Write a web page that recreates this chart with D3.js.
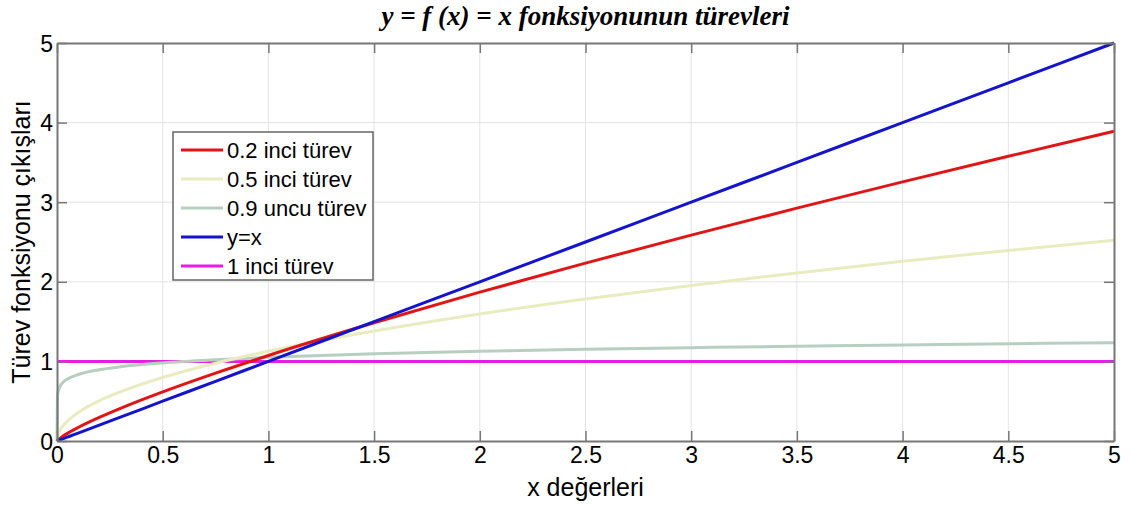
<!DOCTYPE html>
<html>
<head>
<meta charset="utf-8">
<script src="https://cdn.jsdelivr.net/npm/d3@7"></script>
<style>
  body { margin: 0; background: #fff; }
  svg { display: block; }
</style>
</head>
<body>
<div id="chart"></div>
<script>
// sample x points
var xs = [0, 0.002, 0.01, 0.03, 0.06, 0.1, 0.2, 0.3, 0.5, 0.75, 1, 1.5, 2, 2.5, 3, 3.5, 4, 4.5, 5];

// values for each curve
var d02 = [0, 0.007, 0.027, 0.065, 0.113, 0.170, 0.296, 0.410, 0.617, 0.853, 1.074, 1.485, 1.870, 2.235, 2.586, 2.925, 3.255, 3.577, 3.891];
var d05 = [0, 0.050, 0.113, 0.195, 0.276, 0.357, 0.505, 0.618, 0.798, 0.977, 1.128, 1.382, 1.596, 1.784, 1.954, 2.111, 2.257, 2.394, 2.523];
var d09 = [0, 0.565, 0.663, 0.740, 0.793, 0.835, 0.895, 0.932, 0.981, 1.021, 1.051, 1.095, 1.127, 1.152, 1.173, 1.191, 1.207, 1.222, 1.235];
var yx  = [0, 0.002, 0.01, 0.03, 0.06, 0.1, 0.2, 0.3, 0.5, 0.75, 1, 1.5, 2, 2.5, 3, 3.5, 4, 4.5, 5];
var d1  = [1, 1, 1, 1, 1, 1, 1, 1, 1, 1, 1, 1, 1, 1, 1, 1, 1, 1, 1];

var xTicks = [0, 0.5, 1, 1.5, 2, 2.5, 3, 3.5, 4, 4.5, 5];
var yTicks = [0, 1, 2, 3, 4, 5];

var seriesNames = ["0.2 inci türev", "0.5 inci türev", "0.9 uncu türev", "y=x", "1 inci türev"];
var seriesColors = ["#e01515", "#e9ecbf", "#b7cfc1", "#1414cc", "#e51ee5"];
var seriesData = [d02, d05, d09, yx, d1];

var W = 1133, H = 506;
var margin = {top: 43, right: 19, bottom: 65, left: 57};
var width = W - margin.left - margin.right,
    height = H - margin.top - margin.bottom;

var svg = d3.select("#chart").append("svg")
  .attr("width", W)
  .attr("height", H);

var g = svg.append("g")
  .attr("transform", "translate(" + margin.left + "," + margin.top + ")");

var x = d3.scaleLinear().domain([0, 5]).range([0, width]);
var y = d3.scaleLinear().domain([0, 5]).range([height, 0]);

// grid
g.append("g").selectAll("line.gx")
  .data(xTicks.slice(1, -1))
  .enter().append("line")
    .attr("x1", d => x(d)).attr("x2", d => x(d))
    .attr("y1", 0).attr("y2", height)
    .attr("stroke", "#e3e3e3").attr("stroke-width", 1);
g.append("g").selectAll("line.gy")
  .data(yTicks.slice(1, -1))
  .enter().append("line")
    .attr("x1", 0).attr("x2", width)
    .attr("y1", d => y(d)).attr("y2", d => y(d))
    .attr("stroke", "#e3e3e3").attr("stroke-width", 1);

// lines
var line = d3.line()
  .x(d => x(d[0]))
  .y(d => y(d[1]))
  .curve(d3.curveMonotoneX);

var order = [4, 2, 1, 0, 3];
order.forEach(function(i) {
  var pts = xs.map((v, k) => [v, seriesData[i][k]]);
  g.append("path")
    .datum(pts)
    .attr("fill", "none")
    .attr("stroke", seriesColors[i])
    .attr("stroke-width", 3)
    .attr("d", line);
});

// axes with inward ticks (MATLAB style box)
var axColor = "#777";
var tl = 10;
var axBottom = g.append("g")
  .attr("transform", "translate(0," + height + ")")
  .call(d3.axisBottom(x).tickValues(xTicks).tickFormat(d3.format("")).tickSizeInner(-tl).tickSizeOuter(0).tickPadding(5));
var axTop = g.append("g")
  .call(d3.axisTop(x).tickValues(xTicks).tickFormat("").tickSizeInner(-tl).tickSizeOuter(0));
var axLeft = g.append("g")
  .call(d3.axisLeft(y).tickValues(yTicks).tickFormat(d3.format("")).tickSizeInner(-tl).tickSizeOuter(0).tickPadding(4));
var axRight = g.append("g")
  .attr("transform", "translate(" + width + ",0)")
  .call(d3.axisRight(y).tickValues(yTicks).tickFormat("").tickSizeInner(-tl).tickSizeOuter(0));

[axBottom, axTop, axLeft, axRight].forEach(function(a) {
  a.selectAll("path.domain").attr("stroke", axColor).attr("stroke-width", 2);
  a.selectAll(".tick line").attr("stroke", axColor).attr("stroke-width", 1.5);
  a.selectAll("text")
    .attr("fill", "#000")
    .style("font-family", "Arial, 'Liberation Sans', sans-serif")
    .style("font-size", "23px");
});
axBottom.selectAll("text").attr("dy", "0.75em");
axLeft.selectAll("text").attr("dy", "0.35em");

// title
svg.append("text")
  .attr("x", margin.left + width / 2)
  .attr("y", 25)
  .attr("text-anchor", "middle")
  .style("font-family", "'Times New Roman', 'Liberation Serif', serif")
  .style("font-style", "italic")
  .style("font-weight", "bold")
  .style("font-size", "27px")
  .style("white-space", "pre")
  .text("y = f (x) = x fonksiyonunun türevleri");

// axis labels
svg.append("text")
  .attr("x", margin.left + width / 2)
  .attr("y", 496)
  .attr("text-anchor", "middle")
  .style("font-family", "Arial, 'Liberation Sans', sans-serif")
  .style("font-size", "25px")
  .text("x değerleri");

svg.append("text")
  .attr("transform", "translate(30," + (margin.top + height / 2) + ") rotate(-90)")
  .attr("text-anchor", "middle")
  .style("font-family", "Arial, 'Liberation Sans', sans-serif")
  .style("font-size", "25px")
  .text("Türev fonksiyonu çıkışları");

// legend
var lg = svg.append("g").attr("transform", "translate(173,132)");
lg.append("rect")
  .attr("width", 200).attr("height", 148)
  .attr("fill", "#fff")
  .attr("stroke", "#666").attr("stroke-width", 1.5);
seriesNames.forEach(function(name, i) {
  var yy = 18 + i * 29;
  lg.append("line")
    .attr("x1", 8).attr("x2", 50)
    .attr("y1", yy).attr("y2", yy)
    .attr("stroke", seriesColors[i]).attr("stroke-width", 3);
  lg.append("text")
    .attr("x", 54).attr("y", yy)
    .attr("dy", "0.35em")
    .style("font-family", "Arial, 'Liberation Sans', sans-serif")
    .style("font-size", "22px")
    .text(name);
});
</script>
</body>
</html>
